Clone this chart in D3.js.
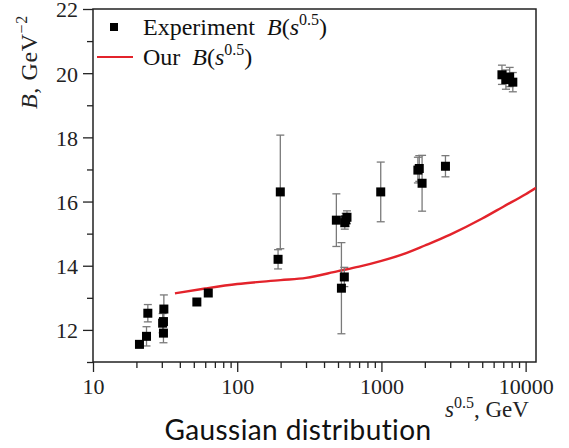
<!DOCTYPE html>
<html>
<head>
<meta charset="utf-8">
<script src="https://cdn.jsdelivr.net/npm/d3@7"></script>
<style>
  body { margin: 0; background: #fff; }
  svg { display: block; }
</style>
</head>
<body>
<svg id="chart" width="569" height="448"></svg>
<script>
// experimental points: sqrt(s) in GeV, B in GeV^-2, symmetric error
const expX   = [21.0, 23.5, 24.0, 30.4, 30.8, 31.0, 30.8, 52.5, 63.0, 192, 199, 487, 528, 553, 557, 565, 577, 989, 1790, 1830, 1914, 2780, 6850, 7300, 7750, 8150];
const expB   = [11.55, 11.80, 12.52, 12.21, 12.26, 12.65, 11.90, 12.87, 13.15, 14.20, 16.30, 15.42, 13.30, 13.65, 15.34, 15.43, 15.51, 16.30, 16.98, 17.03, 16.57, 17.10, 19.95, 19.80, 19.88, 19.72];
const expErr = [0, 0.30, 0.27, 0.30, 0.30, 0.44, 0.30, 0, 0, 0.30, 1.77, 0.82, 1.42, 0.30, 0.20, 0.20, 0.20, 0.93, 0.40, 0.40, 0.87, 0.33, 0.30, 0.30, 0.30, 0.30];

// model curve
const modelX = [37, 60, 100, 200, 300, 500, 700, 1000, 1500, 2000, 3000, 5000, 7000, 10000, 11800];
const modelB = [13.14, 13.29, 13.43, 13.55, 13.62, 13.83, 13.97, 14.15, 14.40, 14.63, 14.97, 15.47, 15.84, 16.23, 16.43];

const xMajor = [10, 100, 1000, 10000];
const yMajor = [12, 14, 16, 18, 20, 22];
const yMinor = [11, 13, 15, 17, 19, 21];

const svg = d3.select('#chart');
const margin = {left: 93, top: 9, right: 536, bottom: 362};

const x = d3.scaleLog().domain([10, 11800]).range([margin.left, margin.right]);
const y = d3.scaleLinear().domain([11, 22]).range([margin.bottom, margin.top]);

const serif = '"Liberation Serif", "Times New Roman", serif';

// clip for plot area
svg.append('defs').append('clipPath').attr('id', 'plot-clip')
  .append('rect')
    .attr('x', margin.left).attr('y', margin.top)
    .attr('width', margin.right - margin.left)
    .attr('height', margin.bottom - margin.top);

// x minor ticks (2..9 per decade)
const xMinor = [];
for (let d = 10; d < 11800; d *= 10) {
  for (let k = 2; k <= 9; k++) if (d * k < 11800) xMinor.push(d * k);
}

// axes
const xAxis = d3.axisBottom(x).tickValues(xMajor).tickFormat(d3.format('d')).tickSize(10).tickPadding(2);
const xAxisMinor = d3.axisBottom(x).tickValues(xMinor).tickFormat('').tickSize(6);
const yAxis = d3.axisLeft(y).tickValues(yMajor).tickFormat(d3.format('d')).tickSize(10).tickPadding(5);
const yAxisMinor = d3.axisLeft(y).tickValues(yMinor).tickFormat('').tickSize(6);

function styleAxis(g) {
  g.attr('font-family', null);
  g.select('.domain').remove();
  g.selectAll('line').attr('stroke', '#222').attr('stroke-width', 1.3);
  g.selectAll('text')
    .style('font-family', serif)
    .style('font-size', '22px')
    .attr('fill', '#222');
}

svg.append('g').attr('transform', `translate(0,${margin.bottom})`).call(xAxisMinor).call(styleAxis);
svg.append('g').attr('transform', `translate(0,${margin.bottom})`).call(xAxis).call(styleAxis)
  .selectAll('text').attr('dy', '0.9em');
svg.append('g').attr('transform', `translate(${margin.left},0)`).call(yAxisMinor).call(styleAxis);
svg.append('g').attr('transform', `translate(${margin.left},0)`).call(yAxis).call(styleAxis)
  .selectAll('text').attr('dy', '0.36em');

// frame
svg.append('rect')
  .attr('x', margin.left).attr('y', margin.top)
  .attr('width', margin.right - margin.left)
  .attr('height', margin.bottom - margin.top)
  .attr('fill', 'none').attr('stroke', '#222').attr('stroke-width', 1.5);

const plot = svg.append('g').attr('clip-path', 'url(#plot-clip)');

// model line
const line = d3.line().x((d, i) => x(modelX[i])).y(d => y(d)).curve(d3.curveMonotoneX);
plot.append('path')
  .datum(modelB)
  .attr('d', line)
  .attr('fill', 'none')
  .attr('stroke', '#e3232b')
  .attr('stroke-width', 2.4);

// experiment: error bars then squares
const exp = expX.map((v, i) => ({x: v, b: expB[i], e: expErr[i]}));
const eb = plot.append('g').attr('stroke', '#7a7a7a').attr('stroke-width', 1.3);
exp.filter(d => d.e > 0).forEach(d => {
  const cx = x(d.x);
  eb.append('line').attr('x1', cx).attr('x2', cx).attr('y1', y(d.b - d.e)).attr('y2', y(d.b + d.e));
  eb.append('line').attr('x1', cx - 4).attr('x2', cx + 4).attr('y1', y(d.b - d.e)).attr('y2', y(d.b - d.e));
  eb.append('line').attr('x1', cx - 4).attr('x2', cx + 4).attr('y1', y(d.b + d.e)).attr('y2', y(d.b + d.e));
});
plot.append('g').selectAll('rect')
  .data(exp)
  .join('rect')
    .attr('x', d => x(d.x) - 4.5)
    .attr('y', d => y(d.b) - 4.5)
    .attr('width', 9).attr('height', 9)
    .attr('fill', '#000');

// legend
const leg = svg.append('g').style('font-family', serif).style('font-size', '24px').attr('fill', '#111');
leg.append('rect').attr('x', 110).attr('y', 23).attr('width', 8).attr('height', 8).attr('fill', '#000');
leg.append('line').attr('x1', 97).attr('x2', 133).attr('y1', 57).attr('y2', 57)
  .attr('stroke', '#e3232b').attr('stroke-width', 2);

function bOfS(textSel, prefix) {
  textSel.append('tspan').text(prefix);
  textSel.append('tspan').attr('font-style', 'italic').text('B');
  textSel.append('tspan').text('(');
  textSel.append('tspan').attr('font-style', 'italic').text('s');
  textSel.append('tspan').style('font-size', '16px').attr('dy', -10).text('0.5');
  textSel.append('tspan').attr('dy', 10).text(')');
}
bOfS(leg.append('text').attr('x', 143).attr('y', 35), 'Experiment\u2002');
bOfS(leg.append('text').attr('x', 143).attr('y', 65), 'Our\u2002');

// y label
const yl = svg.append('text')
  .attr('transform', 'translate(37,109) rotate(-90)')
  .style('font-family', serif).style('font-size', '24px')
  .style('letter-spacing', '0.6px').attr('fill', '#222');
yl.append('tspan').attr('font-style', 'italic').text('B');
yl.append('tspan').text(', GeV');
yl.append('tspan').style('font-size', '16px').attr('dy', -10).text('\u22122');

// x label
const xl = svg.append('text')
  .attr('x', 445).attr('y', 417)
  .style('font-family', serif).style('font-size', '23px').attr('fill', '#222');
xl.append('tspan').attr('font-style', 'italic').text('s');
xl.append('tspan').style('font-size', '16px').attr('dy', -9).text('0.5');
xl.append('tspan').attr('dy', 9).text(', GeV');

// caption
svg.append('text')
  .attr('x', 298).attr('y', 440)
  .attr('text-anchor', 'middle')
  .style('font-family', 'Lato, "Open Sans", sans-serif')
  .style('font-size', '28px')
  .style('letter-spacing', '0.4px')
  .attr('fill', '#111')
  .text('Gaussian distribution');
</script>
</body>
</html>
